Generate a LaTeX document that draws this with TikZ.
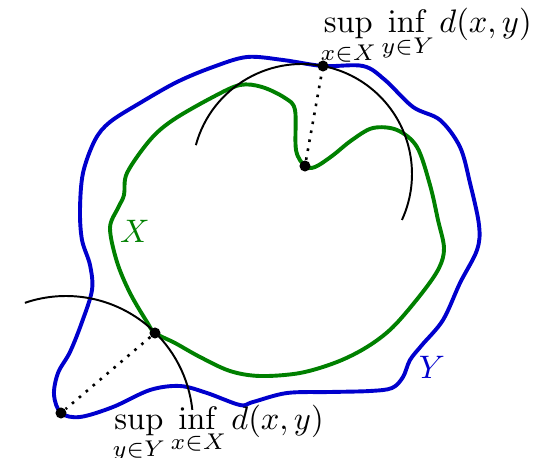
\documentclass[tikz,border=0pt]{standalone}
\usepackage{amsmath,amssymb}
\usepackage{xcolor}
\usepackage{tikz}
\usetikzlibrary{arrows.meta,positioning}
\definecolor{setX}{RGB}{0,128,0}
\definecolor{setY}{RGB}{0,0,205}

\begin{document}
\begin{tikzpicture}[x=0.0108cm, y=-0.0108cm,
  dot/.style={circle, fill=black, inner sep=0pt, minimum size=3.4pt},
  lbl/.style={anchor=base west, inner sep=0pt}]
\useasboundingbox (0,0) rectangle (559,458);
\draw[very thick, setY] plot[smooth cycle, tension=0.55] coordinates {
  (61,413) (54,395) (58,373) (70,352) (82,322) (92,290) (90,265) (82,240)
  (80,210) (83,173) (95,140) (110,122) (140,103) (177,82) (213,67) (247,57)
  (283,60) (323,66) (363,66) (385,80) (413,107) (440,120) (460,147) (470,183)
  (479,225) (477,250) (460,283) (443,320) (422,345) (410,360) (403,377) (392,388)
  (370,391) (330,392) (287,393) (253,402) (240,405) (207,393) (180,386) (150,390)
  (113,407) (80,417)};
\draw[very thick, setX] plot[smooth cycle, tension=0.55] coordinates {
  (155,333) (147,322) (130,293) (117,262) (110,228) (118,208) (124,195) (127,173)
  (150,140) (173,120) (213,97) (240,85) (262,87) (285,98) (295,110) (296,150)
  (305,166) (315,167) (332,156) (352,140) (373,128) (397,130) (417,147) (430,185)
  (438,220) (444,248) (439,268) (422,293) (393,327) (367,347) (337,362) (300,373)
  (260,376) (230,371) (200,357) (175,343)};
\draw[semithick] (302,174) ++(-164.8:110) arc[start angle=-164.8, end angle=24.7, radius=110];
\draw[semithick] (66,423) ++(-108.9:127) arc[start angle=-108.9, end angle=-5.9, radius=127];
\node[dot] (ptX) at (305,166) {};
\node[dot] (ptY) at (323,66) {};
\node[dot] (qX) at (155,333) {};
\node[dot] (qY) at (61,413) {};
\draw[dotted, thick] (ptX) -- (ptY);
\draw[dotted, thick] (qX) -- (qY);
\node[lbl] (supXY) at (320,33) {$\displaystyle\sup_{x\in X}\inf_{y\in Y} d(x,y)$};
\node[lbl] (supYX) at (112,429) {$\displaystyle\sup_{y\in Y}\inf_{x\in X} d(x,y)$};
\node[setX] (labX) at (135,231) {$X$};
\node[setY] (labY) at (432,367) {$Y$};
\end{tikzpicture}
\end{document}
